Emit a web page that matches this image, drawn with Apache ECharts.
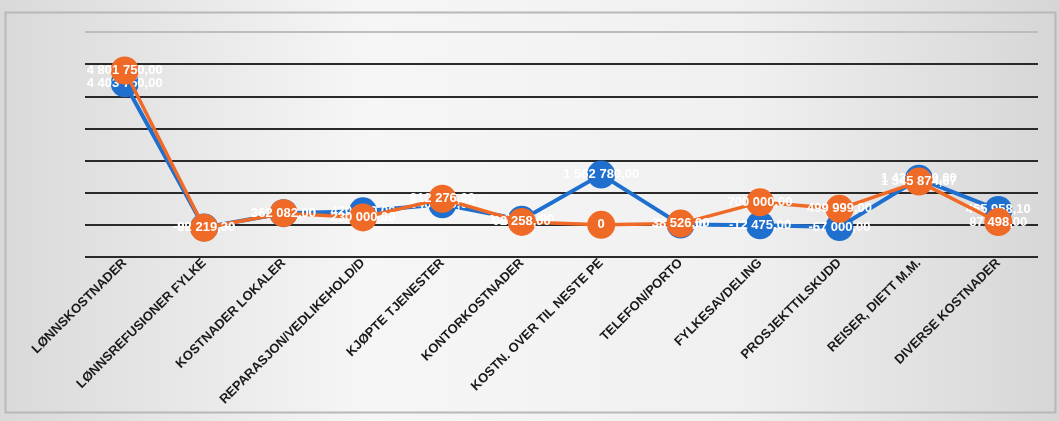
<!DOCTYPE html>
<html>
<head>
<meta charset="utf-8">
<script src="https://cdn.jsdelivr.net/npm/echarts@6/dist/echarts.min.js"></script>
<style>
html,body{margin:0;padding:0;background:#e4e4e4;}
#c{width:1059px;height:421px;}
</style>
</head>
<body>
<div id="c"></div>
<script>
const categories = ['LØNNSKOSTNADER','LØNNSREFUSIONER FYLKE','KOSTNADER LOKALER','REPARASJON/VEDLIKEHOLD/D','KJØPTE TJENESTER','KONTORKOSTNADER','KOSTN. OVER TIL NESTE PE','TELEFON/PORTO','FYLKESAVDELING','PROSJEKTTILSKUDD','REISER, DIETT M.M.','DIVERSE KOSTNADER'];
const blueValues = [4403750, -80000, 362082, 420000, 640000, 160000, 1562780, 8123, -12475, -67000, 1435000, 465958.10];
const orangeValues = [4801750, -92219.3, 362082, 230000, 812276, 92258, 0, 38526, 700000, 499999, 1345874.67, 87498];
const yMin = -1000000, yMax = 6000000, yStep = 1000000;

function fmt(v){
  if (v === 0) return '0';
  const neg = v < 0; v = Math.abs(v);
  const parts = v.toFixed(2).split('.');
  const intp = parts[0].replace(/\B(?=(\d{3})+(?!\d))/g, ' ');
  return (neg ? '-' : '') + intp + ',' + parts[1];
}

const chart = echarts.init(document.getElementById('c'));
chart.setOption({
  backgroundColor: {
    type: 'linear', x: 0, y: 0, x2: 1, y2: 0,
    colorStops: [
      {offset: 0, color: '#d9d9d9'},
      {offset: 0.35, color: '#f6f6f6'},
      {offset: 0.7, color: '#f0f0f0'},
      {offset: 1, color: '#d6d6d6'}
    ]
  },
  animation: false,
  graphic: [{
    type: 'rect', left: 3, top: 10, shape: {width: 1050, height: 400},
    style: {fill: 'none', stroke: '#b8b8b8', lineWidth: 2}, silent: true
  }],
  grid: {left: 85, right: 21, top: 32, bottom: 164},
  xAxis: {
    type: 'category',
    data: categories,
    boundaryGap: true,
    axisLine: {show: false},
    axisTick: {show: false},
    axisLabel: {
      rotate: 45, interval: 0, margin: 4,
      color: '#1a1a1a', fontSize: 13, fontWeight: 'bold',
      fontFamily: 'Liberation Sans, Arial, sans-serif'
    }
  },
  yAxis: {
    type: 'value', min: yMin, max: yMax, interval: yStep,
    axisLabel: {show: false},
    axisLine: {show: false},
    axisTick: {show: false},
    splitLine: {lineStyle: {color: ['#2a2a2a','#2a2a2a','#2a2a2a','#2a2a2a','#2a2a2a','#2a2a2a','#2a2a2a','#bdbdbd'], width: 2}}
  },
  series: [
    {
      name: 'Blå', type: 'line', data: blueValues,
      symbol: 'circle', symbolSize: 28,
      lineStyle: {color: '#1f6fcf', width: 4},
      itemStyle: {color: '#1f6fcf'},
      label: {show: true, position: 'inside', color: '#ffffff', fontSize: 13, fontWeight: 'bold',
        fontFamily: 'Liberation Sans, Arial, sans-serif',
        formatter: p => fmt(p.value)},
      z: 2
    },
    {
      name: 'Oransje', type: 'line', data: orangeValues,
      symbol: 'circle', symbolSize: 28,
      lineStyle: {color: '#ef6a27', width: 3.5},
      itemStyle: {color: '#ef6a27'},
      label: {show: true, position: 'inside', color: '#ffffff', fontSize: 13, fontWeight: 'bold',
        fontFamily: 'Liberation Sans, Arial, sans-serif',
        formatter: p => fmt(p.value)},
      z: 3
    }
  ]
});
</script>
</body>
</html>
